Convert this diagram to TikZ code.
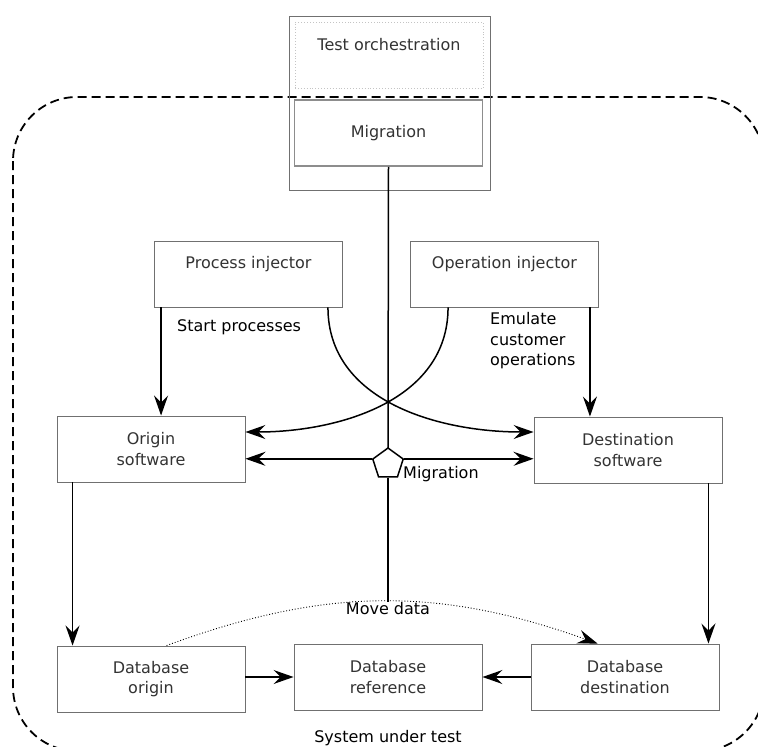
\documentclass[tikz,border=0pt]{standalone}
\usepackage{fontspec}
\setmainfont{DejaVu Sans}
\usetikzlibrary{arrows.meta,shapes.geometric}
\definecolor{boxline}{HTML}{707070}
\definecolor{boxtext}{HTML}{333333}
\definecolor{dotline}{HTML}{C4C4C4}

\begin{document}
\begin{tikzpicture}[x=1pt, y=-1pt, font=\fontsize{16}{20.5}\selectfont,
    box/.style={rectangle, draw=boxline, line width=0.9pt, fill=white, minimum width=188pt, minimum height=66pt, text=boxtext, align=center, inner sep=0},
    link/.style={line width=1.5pt, -{Stealth[length=20pt, width=14pt, inset=7pt]}}]
                \useasboundingbox (0,0) rectangle (758,747);
                \clip (0,0) rectangle (758,747);

                % system under test
                \draw[line width=1.8pt, dash pattern=on 9pt off 5pt, rounded corners=64pt] (13,97) rectangle (764,751);
                \node (SutTxt) at (388,738) {System under test};

                % orchestration
                \node[draw=boxline, line width=0.8pt, minimum width=201pt, minimum height=174pt, inner sep=0] (Frame) at (389.5,103) {};
                \node[box, draw=dotline, dotted, label={[name=TestOrchTxt, anchor=center, yshift=-23pt, text=boxtext]north:Test orchestration}] (TestOrch) at (389,55) {};
                \node[box, line width=1.6pt, draw=boxline!80] (Migr) at (388.5,133) {Migration};

                \node[box, label={[name=ProcInjTxt, anchor=center, yshift=-24pt, text=boxtext]north:Process injector}] (ProcInj) at (248.5,274) {};
                \node[box, label={[name=OperInjTxt, anchor=center, yshift=-24pt, text=boxtext]north:Operation injector}] (OperInj) at (504.5,274) {};
                \node[box] (OrigSW) at (151,449) {Origin\\software};
                \node[box] (DestSW) at (628,450) {Destination\\software};
                \node[box] (DBOrig) at (151,679) {Database\\origin};
                \node[box] (DBRef) at (388,677) {Database\\reference};
                \node[box] (DBDest) at (625,677) {Database\\destination};

                \node[inner sep=0, anchor=west] (StartTxt) at (177,327) {Start processes};
                \node[inner sep=0, anchor=west, align=left] (EmuTxt) at (490,341) {Emulate\\customer\\operations};
                \node[inner sep=1pt] (MoveTxt) at (388,609) {Move data};

                \draw[line width=1.5pt] (Migr.south) -- (388,450);
                \node[regular polygon, regular polygon sides=5, draw, line width=1.5pt, fill=white, minimum size=32pt, inner sep=0] (Pent) at (388,464) {};
                \node[inner sep=0, anchor=west] (PentTxt) at (403,474) {Migration};
                \draw[line width=1.5pt] (Pent.south) -- (MoveTxt.north);

                \draw[link] ([xshift=7pt]ProcInj.south west) -- ([xshift=7pt]ProcInj.south west |- OrigSW.north);
                \draw[link] ([xshift=-9pt]OperInj.south east) -- ([xshift=-9pt]OperInj.south east |- DestSW.north);
                \draw[link] ([xshift=-15pt]ProcInj.south east) to[out=-90, in=180] ([yshift=18pt]DestSW.west);
                \draw[link] ([xshift=38pt]OperInj.south west) to[out=-90, in=0] ([yshift=17pt]OrigSW.east);

                \draw[link] (Pent.corner 2) -- (Pent.corner 2 -| OrigSW.east);
                \draw[link] (Pent.corner 5) -- (Pent.corner 5 -| DestSW.west);

                \draw[link] ([xshift=16pt]OrigSW.south west) -- ([xshift=16pt]OrigSW.south west |- DBOrig.north);
                \draw[link] ([xshift=-14pt]DestSW.south east) -- ([xshift=-14pt]DestSW.south east |- DBDest.north);
                \draw[link] (DBOrig.east |- DBRef) -- (DBRef.west);
                \draw[link] (DBDest.west) -- (DBDest.west -| DBRef.east);
                \draw[link, line width=0.9pt, dotted] ([xshift=110pt]DBOrig.north west) to[bend left=20] ([xshift=67pt]DBDest.north west);
\end{tikzpicture}
\end{document}
